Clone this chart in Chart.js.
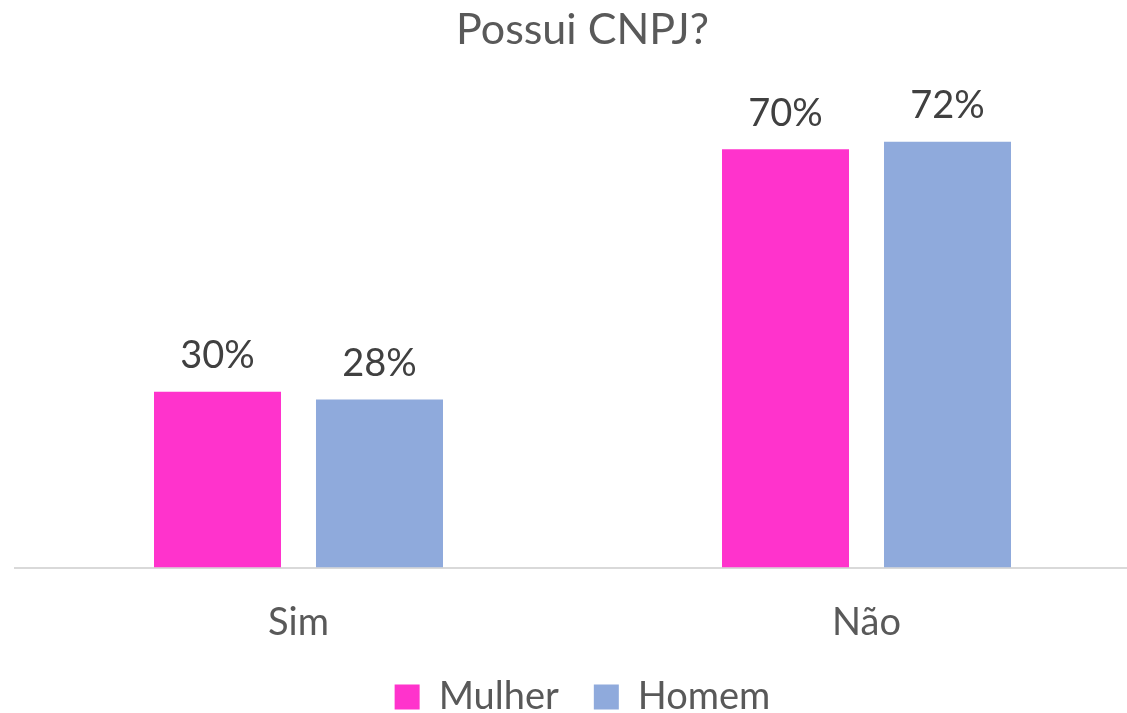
<!DOCTYPE html>
<html>
<head>
<meta charset="utf-8">
<script src="https://cdn.jsdelivr.net/npm/chart.js@4.4.1/dist/chart.umd.min.js"></script>
<style>
  html, body { margin: 0; padding: 0; background: #ffffff; overflow: hidden; }
  #wrap { width: 1160px; height: 713px; position: relative; }
</style>
</head>
<body>
<div id="wrap"><canvas id="c" width="1160" height="713"></canvas></div>
<script>
const categories = ['Sim', 'Não'];
const seriesNames = ['Mulher', 'Homem'];
const mulher = [29.6, 70.4];
const homem = [28.3, 71.7];
const mulherLabels = ['30%', '70%'];
const homemLabels = ['28%', '72%'];

const FONT = 'Lato, "Open Sans", sans-serif';

const labelPlugin = {
  id: 'barLabels',
  afterDatasetsDraw(chart) {
    const ctx = chart.ctx;
    const texts = [mulherLabels, homemLabels];
    ctx.save();
    ctx.font = '38px ' + FONT;
    ctx.fillStyle = '#404040';
    ctx.textAlign = 'center';
    ctx.textBaseline = 'bottom';
    chart.data.datasets.forEach((ds, i) => {
      const meta = chart.getDatasetMeta(i);
      meta.data.forEach((bar, j) => {
        ctx.fillText(texts[i][j], bar.x, bar.y - 17);
      });
    });
    ctx.restore();
  }
};

new Chart(document.getElementById('c'), {
  type: 'bar',
  data: {
    labels: categories,
    datasets: [
      { label: seriesNames[0], data: mulher, backgroundColor: '#FF33CC', borderWidth: 0 },
      { label: seriesNames[1], data: homem, backgroundColor: '#8FAADC', borderWidth: 0 }
    ]
  },
  options: {
    responsive: false,
    animation: false,
    layout: { padding: { left: 14.5, right: 9.5, top: 0, bottom: -13 } },
    datasets: { bar: { categoryPercentage: 0.5704, barPercentage: 0.784 } },
    scales: {
      x: {
        grid: { display: false, drawTicks: false },
        border: { display: true, color: '#d9d9d9', width: 2 },
        ticks: { font: { family: FONT, size: 38 }, color: '#595959', padding: 32 },
        afterFit(scale) { scale.height = 75.5; }
      },
      y: {
        display: false,
        min: 0,
        max: 84.5
      }
    },
    plugins: {
      title: {
        display: true,
        text: 'Possui CNPJ?',
        font: { family: FONT, size: 43, weight: 'normal' },
        color: '#595959',
        padding: { top: 4, bottom: 10 }
      },
      legend: {
        position: 'bottom',
        labels: {
          font: { family: FONT, size: 38 },
          color: '#595959',
          boxWidth: 25,
          boxHeight: 25,
          padding: 35
        }
      },
      tooltip: { enabled: false }
    }
  },
  plugins: [labelPlugin]
});
</script>
</body>
</html>
